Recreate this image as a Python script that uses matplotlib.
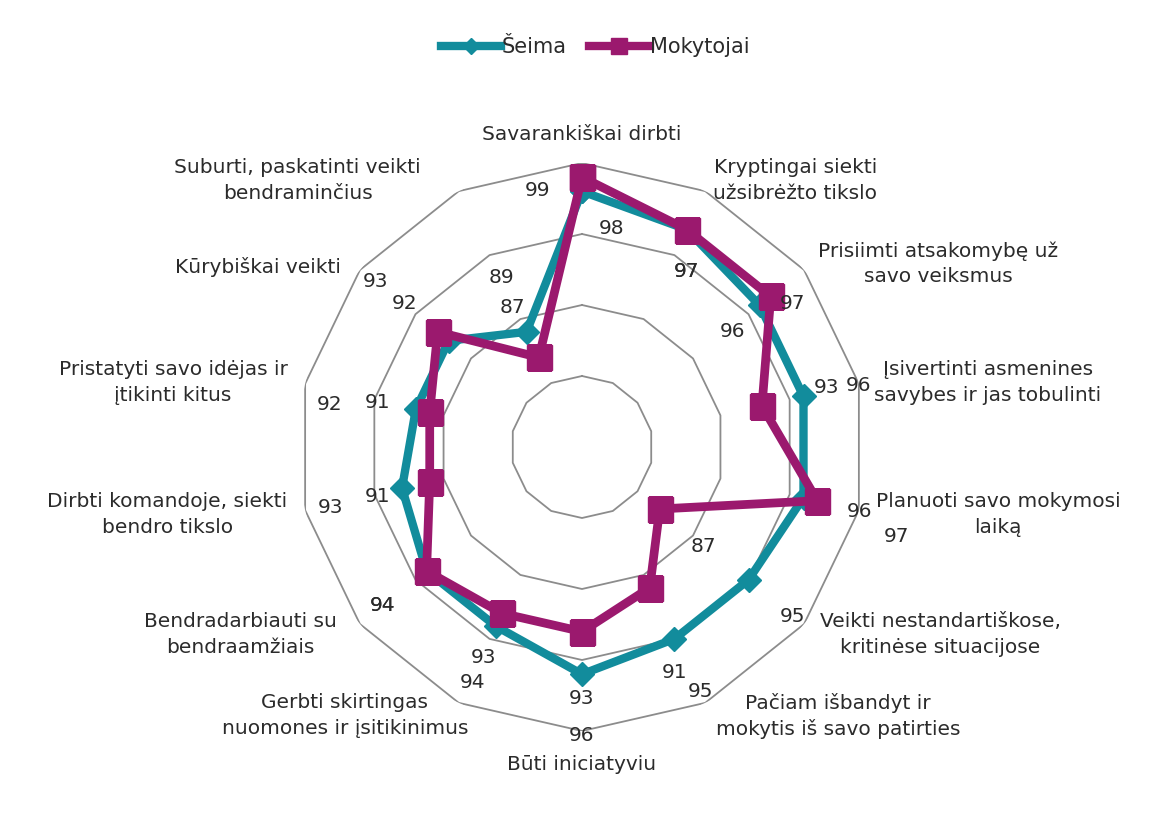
import numpy as np
import matplotlib
matplotlib.use("Agg")
import matplotlib.pyplot as plt
from matplotlib.lines import Line2D

# ---- data -------------------------------------------------------------
categories = [
    "Savarankiškai dirbti",
    "Kryptingai siekti\nužsibrėžto tikslo",
    "Prisiimti atsakomybę už\nsavo veiksmus",
    "Įsivertinti asmenines\nsavybes ir jas tobulinti",
    "Planuoti savo mokymosi\nlaiką",
    "Veikti nestandartiškose,\nkritinėse situacijose",
    "Pačiam išbandyt ir\nmokytis iš savo patirties",
    "Būti iniciatyviu",
    "Gerbti skirtingas\nnuomones ir įsitikinimus",
    "Bendradarbiauti su\nbendraamžiais",
    "Dirbti komandoje, siekti\nbendro tikslo",
    "Pristatyti savo idėjas ir\nįtikinti kitus",
    "Kūrybiškai veikti",
    "Suburti, paskatinti veikti\nbendraminčius",
]
seima = [98, 97, 96, 96, 96, 95, 95, 96, 94, 94, 93, 92, 92, 89]
mokytojai = [99, 97, 97, 93, 97, 87, 91, 93, 93, 94, 91, 91, 93, 87]
series_names = ["Šeima", "Mokytojai"]

# label offsets (pixels) for the value labels of each series
seima_off = [(30, -37), (0, -42), (-27, -26), (55, 11), (56, -14), (44, -37), (26, -53),
             (0, -61), (-23, -56), (-44, -35), (-72, -19), (-86, 5), (-44, 37), (-25, 54)]
mokyt_off = [(-44, -13), (0, -42), (22, -7), (65, 18), (79, -36), (44, -38), (25, -85),
             (0, -67), (-18, -44), (-44, -35), (-52, -15), (-52, 10), (-62, 50), (-26, 50)]
# category label offsets (pixels) from the outer ring vertex
cat_off = [(0, 30), (90, 13), (134, 8), (129, 3), (139, -2), (136, -8), (133, -11),
           (0, -32), (-114, -11), (-120, -8), (-138, -2), (-132, 3), (-102, 5), (-161, 13)]

teal = "#128C9C"
magenta = "#9B196E"
grid_c = "#8C8C8C"
text_c = "#2B2B2B"

plt.rcParams['font.family'] = ['DejaVu Sans']

W, H = 1163, 825
fig = plt.figure(figsize=(W / 100, H / 100), dpi=100)
cx, cy, R = 582, 447, 284
ax = fig.add_axes([(cx - R) / W, (H - cy - R) / H, 2 * R / W, 2 * R / H], projection='polar')
ax.set_theta_zero_location('N')
ax.set_theta_direction(-1)
ax.set_ylim(80, 100)
ax.grid(False)
ax.spines['polar'].set_visible(False)
ax.set_xticks([])
ax.set_yticks([])
ax.patch.set_alpha(0)

n = len(categories)
theta = np.arange(n) * 2 * np.pi / n
theta_c = np.append(theta, theta[0])

# polygon grid rings
for lev in [85, 90, 95, 100]:
    ax.plot(theta_c, [lev] * (n + 1), color=grid_c, lw=1.3, zorder=1)

def closed(v):
    return list(v) + [v[0]]

ax.plot(theta_c, closed(seima), color=teal, lw=6, marker='D', ms=12.5,
        solid_joinstyle='miter', zorder=3)
ax.plot(theta_c, closed(mokytojai), color=magenta, lw=6.3, marker='s', ms=18,
        solid_joinstyle='miter', zorder=4)

val_fs = 14.5
cat_fs = 14.5
line_h = 26
for i in range(n):
    ax.annotate(str(seima[i]), (theta[i], seima[i]), xytext=seima_off[i],
                textcoords='offset pixels', ha='center', va='center',
                fontsize=val_fs, color=text_c, zorder=5, annotation_clip=False)
    ax.annotate(str(mokytojai[i]), (theta[i], mokytojai[i]), xytext=mokyt_off[i],
                textcoords='offset pixels', ha='center', va='center',
                fontsize=val_fs, color=text_c, zorder=5, annotation_clip=False)
    # one text per line so the boxes hug each line
    lines = categories[i].split("\n")
    dx, dy = cat_off[i]
    for k, line in enumerate(lines):
        shift = ((len(lines) - 1) / 2 - k) * line_h
        ax.annotate(line, (theta[i], 100), xytext=(dx, dy + shift),
                    textcoords='offset pixels', ha='center', va='center_baseline',
                    fontsize=cat_fs, color=text_c, annotation_clip=False)

handles = [Line2D([], [], color=teal, lw=6, marker='D', ms=8),
           Line2D([], [], color=magenta, lw=6, marker='s', ms=11)]
fig.legend(handles, series_names, loc='center', bbox_to_anchor=(595 / W, 1 - 47 / H),
           ncol=2, frameon=False, fontsize=15, handlelength=2.9, handletextpad=0.0,
           columnspacing=1.1, labelcolor=text_c)

fig.savefig("out.png", dpi=100)
